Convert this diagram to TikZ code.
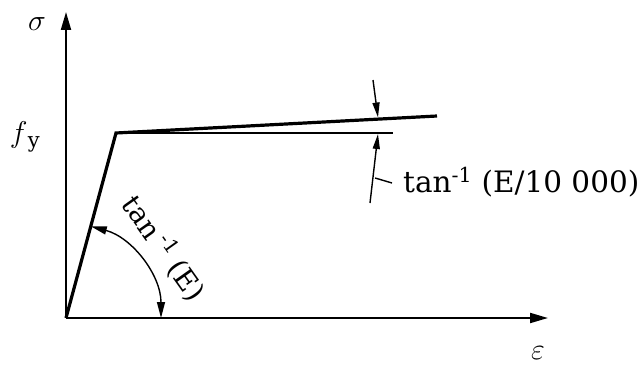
\RequirePackage{fix-cm}
\documentclass[tikz,border=0pt]{standalone}
\usepackage{fontspec}
\setmainfont{DejaVu Serif}
\usetikzlibrary{arrows.meta}
\begin{document}
\begin{tikzpicture}[x=1pt,y=1pt,
  axisline/.style={line width=2pt,-{Triangle[length=18pt,width=10pt]}},
  curveline/.style={line width=3.2pt,line join=miter},
  thinline/.style={line width=1.4pt},
  dimline/.style={line width=1.4pt},
  dimtip/.style={-{Triangle[length=15pt,width=7pt]}},
  lbl/.style={inner sep=0pt,font=\fontsize{29.5}{34}\selectfont},
  rlbl/.style={inner sep=0pt,font=\fontsize{28}{32}\selectfont},
  mlbl/.style={inner sep=0pt,font=\fontsize{30}{34}\selectfont}]
\useasboundingbox (0,0) rectangle (643,365);
\coordinate (O) at (66,47);
\coordinate (Y) at (66,353);
\coordinate (X) at (548,47);
\coordinate (A) at (116,232);
\coordinate (B) at (437,249);
\coordinate (H) at (393,232);
\draw[axisline] (O) -- (Y);
\draw[axisline] (O) -- (X);
\draw[curveline] (O) -- (A) -- (B);
\draw[thinline] (A) -- (H);
% angle arc
\coordinate (arcE) at ([shift={(0:95)}]O);
\draw[dimline,{Triangle[length=16pt,width=8pt]}-{Triangle[length=16pt,width=8pt]}] (arcE) arc[start angle=0,end angle=74.88,radius=95];
% dimension arrows
\coordinate (t1) at (373,285);
\coordinate (t2) at (378,247.5);
\coordinate (b1) at (370,162);
\coordinate (b2) at (378,231);
\coordinate (k1) at (375.1,187);
\coordinate (k2) at (392,182);
\draw[dimline,dimtip] (t1) -- (t2);
\draw[dimline,dimtip] (b1) -- (b2);
\draw[dimline] (k1) -- (k2);
% labels
\node[mlbl] (sig) at (37,341) {$\sigma$};
\node[mlbl] (fy) at (25,228) {$f_{\,\mathrm{y}}$};
\node[mlbl] (eps) at (538,12) {$\varepsilon$};
\node[lbl,anchor=west] (tanr) at (403,183) {tan\textsuperscript{-1} (E/10 000)};
\node[rlbl,rotate=-54.7] (tanl) at (164,117) {tan\,\textsuperscript{-1} (E)};
\end{tikzpicture}
\end{document}
